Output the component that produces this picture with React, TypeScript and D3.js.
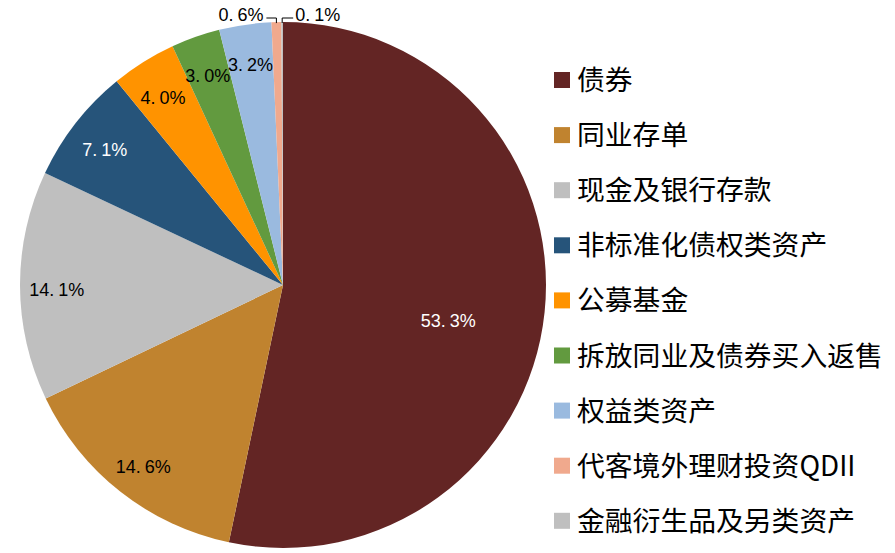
import { useEffect, useRef } from 'react'
import * as d3 from 'd3'

// asset allocation shares (%), clockwise from 12 o'clock
const categories = [
  '债券',
  '同业存单',
  '现金及银行存款',
  '非标准化债权类资产',
  '公募基金',
  '拆放同业及债券买入返售',
  '权益类资产',
  '代客境外理财投资QDII',
  '金融衍生品及另类资产',
]
const shares = [53.3, 14.6, 14.1, 7.1, 4.0, 3.0, 3.2, 0.6, 0.1]
const colors = ['#632524', '#C0832F', '#BFBFBF', '#26547A', '#FF9300', '#629A3F', '#9ABADF', '#F0A98D', '#BFBFBF']
const labelColors = ['#fff', '#000', '#000', '#fff', '#000', '#000', '#000', '#000', '#000']

export default function App() {
  const svgRef = useRef<SVGSVGElement>(null)

  useEffect(() => {
    if (!svgRef.current) return
    const svg = d3.select(svgRef.current)
    svg.selectAll('*').remove()

    const cx = 283
    const cy = 285
    const r = 263

    const pie = d3.pie<number>().sort(null).value(d => d)
    const arcs = pie(shares)
    const arc = d3.arc<d3.PieArcDatum<number>>().innerRadius(0).outerRadius(r)

    const g = svg.append('g').attr('transform', `translate(${cx},${cy})`)

    g.selectAll('path')
      .data(arcs)
      .enter()
      .append('path')
      .attr('d', arc)
      .attr('fill', (d, i) => colors[i])
      .attr('stroke', 'none')

    // percentage text, with the wide gap after the dot like the original font
    const addLabel = (x: number, y: number, v: number, anchor: string, fill: string) => {
      const [a, b] = d3.format('.1f')(v).split('.')
      const t = g.append('text')
        .attr('x', x)
        .attr('y', y)
        .attr('dy', '0.35em')
        .attr('text-anchor', anchor)
        .style('font-family', 'Liberation Sans, Arial, sans-serif')
        .style('font-size', '18px')
        .style('fill', fill)
      t.append('tspan').text(a + '.')
      t.append('tspan').attr('dx', 4).text(b + '%')
    }

    arcs.forEach((d, i) => {
      let a = (d.startAngle + d.endAngle) / 2
      if (i >= 7) {
        // small slices: outside labels with leader lines
        const px = r * Math.sin(a)
        const py = -r * Math.cos(a)
        const ly = -r - 4
        const left = i === 7
        const hx = left ? px - 10 : px + 11
        g.append('path')
          .attr('d', `M${px},${py + 1}L${px},${ly}L${hx},${ly}`)
          .attr('fill', 'none')
          .attr('stroke', '#000')
          .attr('stroke-width', 1)
        addLabel(left ? hx - 3 : hx + 2, ly - 3, shares[i], left ? 'end' : 'start', '#000')
        return
      }
      let rr = r * 0.86
      if (i === 0) {
        rr = r * 0.64
        a += (5 * Math.PI) / 180
      }
      addLabel(rr * Math.sin(a), -rr * Math.cos(a) + 4, shares[i], 'middle', labelColors[i])
    })

    // legend
    const legend = svg.append('g').attr('transform', 'translate(554, 80)')
    const rowH = 55.1
    categories.forEach((c, i) => {
      const row = legend.append('g').attr('transform', `translate(0, ${i * rowH})`)
      row.append('rect')
        .attr('x', 0)
        .attr('y', -8)
        .attr('width', 16)
        .attr('height', 16)
        .attr('fill', colors[i])
      row.append('text')
        .attr('x', 23)
        .attr('y', 0)
        .attr('dy', '0.36em')
        .style('font-family', 'Noto Sans CJK SC, sans-serif')
        .style('font-size', '27.8px')
        .style('fill', '#000')
        .text(c)
    })
  }, [])

  return (
    <svg
      ref={svgRef}
      width={895}
      height={553}
      style={{ position: 'absolute', left: 0, top: 0, background: '#fff' }}
    />
  )
}
